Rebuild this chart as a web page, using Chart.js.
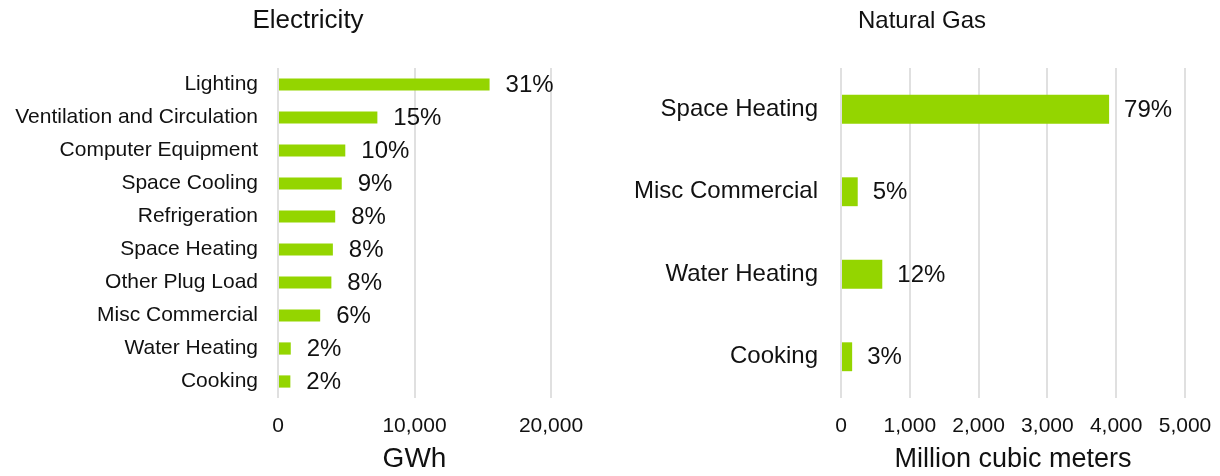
<!DOCTYPE html>
<html>
<head>
<meta charset="utf-8">
<script src="https://cdn.jsdelivr.net/npm/chart.js@4.4.1/dist/chart.umd.min.js"></script>
<style>
  body { margin: 0; background: #fff; font-family: "Liberation Sans", Arial, sans-serif; }
  .panel { position: absolute; top: 0; width: 610px; height: 476px; }
  .title { position: absolute; top: 6px; width: 100%; text-align: center; color: #111; }
</style>
</head>
<body>
<div class="panel" style="left:0">
  <div class="title" style="left:3px; top:4px; font-size:26px">Electricity</div>
  <canvas id="elecChart"></canvas>
</div>
<div class="panel" style="left:610px">
  <div class="title" style="left:7px; font-size:24px">Natural Gas</div>
  <canvas id="gasChart"></canvas>
</div>
<script>
const elecLabels = ["Lighting", "Ventilation and Circulation", "Computer Equipment", "Space Cooling",
  "Refrigeration", "Space Heating", "Other Plug Load", "Misc Commercial", "Water Heating", "Cooking"];
const elecValues = [15500, 7280, 4930, 4670, 4190, 4020, 3910, 3090, 935, 905];
const elecShares = ["31%", "15%", "10%", "9%", "8%", "8%", "8%", "6%", "2%", "2%"];

const gasLabels = ["Space Heating", "Misc Commercial", "Water Heating", "Cooking"];
const gasValues = [3897, 243, 600, 162];
const gasShares = ["79%", "5%", "12%", "3%"];

const green = "#94d500";
const gridColor = "#e0e0e0";
const textColor = "#111";
const fontFamily = "'Liberation Sans', Arial, sans-serif";

// draws the share text to the right of each bar
const shareLabels = {
  id: "shareLabels",
  afterDatasetsDraw(chart, args, opts) {
    const ctx = chart.ctx;
    const meta = chart.getDatasetMeta(0);
    ctx.save();
    ctx.fillStyle = textColor;
    ctx.font = opts.size + "px " + fontFamily;
    ctx.textAlign = "left";
    ctx.textBaseline = "middle";
    meta.data.forEach((bar, i) => {
      ctx.fillText(opts.texts[i], bar.x + opts.gap, bar.y + 1);
    });
    ctx.restore();
  }
};

const makeChart = (id, labels, values, shares, cfg) => {
  return new Chart(document.getElementById(id), {
    type: "bar",
    data: {
      labels: labels,
      datasets: [{
        data: values,
        backgroundColor: green,
        barPercentage: cfg.barPct,
        categoryPercentage: 1
      }]
    },
    options: {
      indexAxis: "y",
      responsive: true,
      maintainAspectRatio: false,
      animation: false,
      layout: { padding: { left: 0, right: cfg.padRight, top: 68, bottom: 0 } },
      plugins: {
        legend: { display: false },
        tooltip: { enabled: false },
        shareLabels: { texts: shares, size: 24, gap: cfg.shareGap }
      },
      scales: {
        x: {
          min: 0,
          max: cfg.max,
          ticks: {
            stepSize: cfg.step,
            padding: 16,
            color: textColor,
            font: { family: fontFamily, size: 21 },
            callback: (v) => v.toLocaleString("en-US")
          },
          grid: { color: gridColor, lineWidth: 2, drawTicks: false },
          border: { display: false },
          title: {
            display: true,
            text: cfg.axisTitle,
            color: textColor,
            font: { family: fontFamily, size: cfg.axisTitleSize },
            padding: { top: 0, bottom: 0 }
          },
          afterFit: (s) => {
            s.height = 78;
            s.paddingLeft = 0;
            s.paddingRight = 0;
          }
        },
        y: {
          ticks: {
            padding: cfg.labelGap,
            color: textColor,
            font: { family: fontFamily, size: cfg.catSize }
          },
          grid: { display: false, drawTicks: false },
          border: { display: false },
          afterFit: (s) => {
            s.width = cfg.axisLeft;
            s.paddingTop = 0;
            s.paddingBottom = 0;
          }
        }
      }
    },
    plugins: [shareLabels]
  });
};

makeChart("elecChart", elecLabels, elecValues, elecShares, {
  barPct: 0.37, padRight: 59, max: 20000, step: 10000, axisTitle: "GWh", axisTitleSize: 28,
  labelGap: 20, catSize: 21, axisLeft: 278, shareGap: 16
});

makeChart("gasChart", gasLabels, gasValues, gasShares, {
  barPct: 0.35, padRight: 35, max: 5000, step: 1000, axisTitle: "Million cubic meters", axisTitleSize: 27,
  labelGap: 23, catSize: 24, axisLeft: 231, shareGap: 15
});
</script>
</body>
</html>
